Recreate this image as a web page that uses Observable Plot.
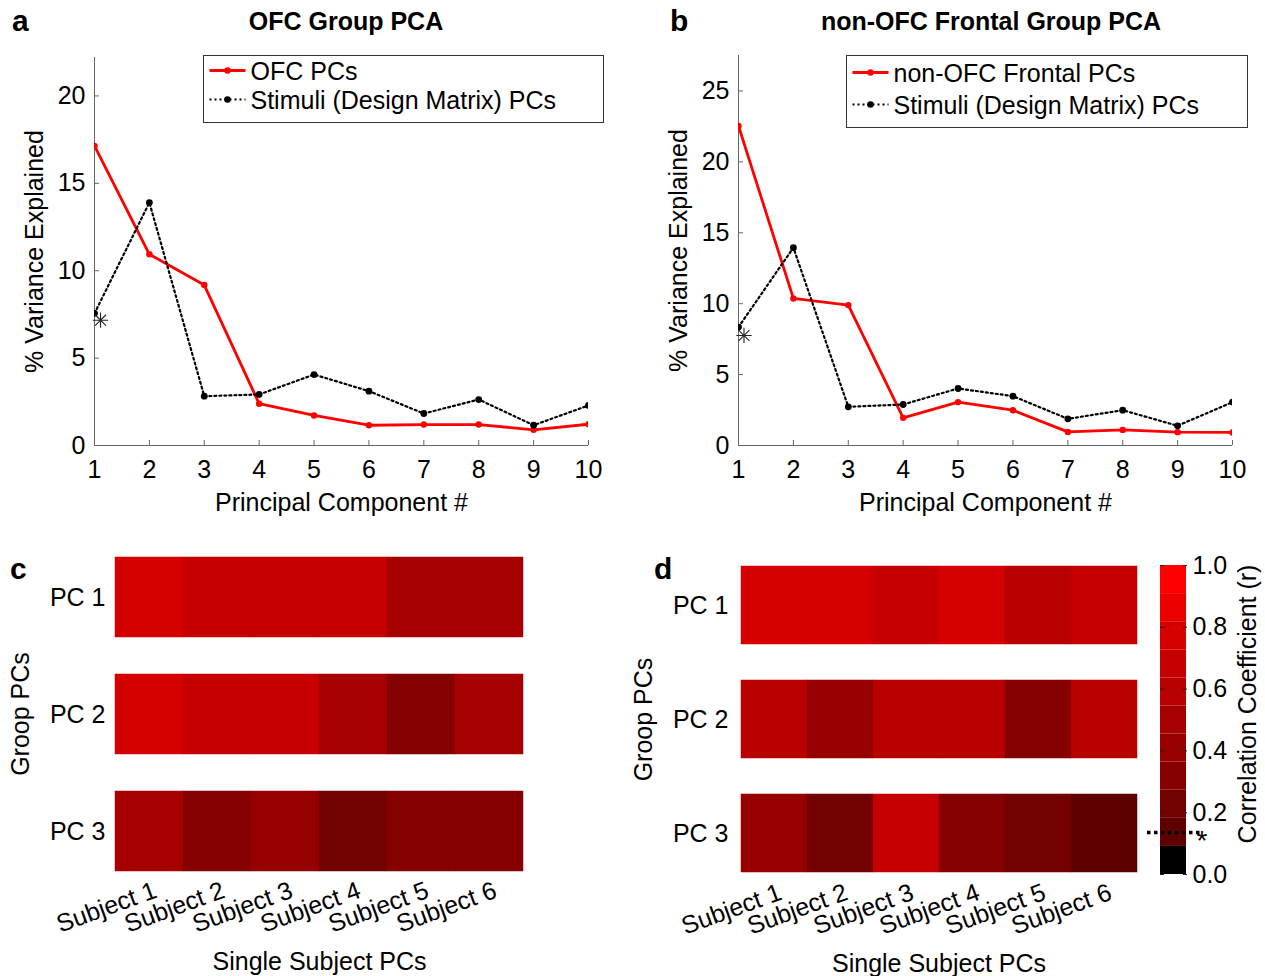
<!DOCTYPE html>
<html>
<head>
<meta charset="utf-8">
<script src="https://cdn.jsdelivr.net/npm/d3@7"></script>
<script src="https://cdn.jsdelivr.net/npm/@observablehq/plot@0.6"></script>
<style>
  body { margin: 0; background: #fff; }
  #fig { position: relative; width: 1265px; height: 976px; overflow: hidden; background: #fff;
         font-family: "Liberation Sans", Arial, sans-serif; }
  #fig > svg, #fig > figure { position: absolute; margin: 0; }
</style>
</head>
<body>
<div id="fig"></div>
<script>
// ---------------- data ----------------
const components = [1, 2, 3, 4, 5, 6, 7, 8, 9, 10];
const ofcVariance        = [17.14, 10.94, 9.18, 2.39, 1.72, 1.16, 1.20, 1.20, 0.90, 1.22];
const ofcStimVariance    = [7.56, 13.90, 2.82, 2.92, 4.06, 3.11, 1.83, 2.63, 1.16, 2.29];
const nonOfcVariance     = [22.53, 10.37, 9.90, 1.95, 3.06, 2.49, 0.96, 1.10, 0.94, 0.92];
const nonOfcStimVariance = [8.35, 13.95, 2.73, 2.89, 4.02, 3.48, 1.88, 2.49, 1.39, 3.06];
const ofcStar    = [{pc: 1.11, v: 7.17}];
const nonOfcStar = [{pc: 1.10, v: 7.76}];
const yTicksA = [0, 5, 10, 15, 20];
const yTicksB = [0, 5, 10, 15, 20, 25];

const subjects = ["Subject 1", "Subject 2", "Subject 3", "Subject 4", "Subject 5", "Subject 6"];
const groupPCs = ["PC 1", "PC 2", "PC 3"];
const ofcCorr = [
  [0.77, 0.68, 0.68, 0.68, 0.50, 0.50],
  [0.77, 0.68, 0.68, 0.50, 0.32, 0.50],
  [0.50, 0.32, 0.41, 0.23, 0.32, 0.32]
];
const nonOfcCorr = [
  [0.77, 0.77, 0.68, 0.77, 0.59, 0.68],
  [0.59, 0.41, 0.59, 0.59, 0.32, 0.59],
  [0.41, 0.23, 0.68, 0.32, 0.23, 0.14]
];
const corrThresholds = [0.0909, 0.1818, 0.2727, 0.3636, 0.4545, 0.5455, 0.6364, 0.7273, 0.8182, 0.9091];
const binColors = ["#000000", "#5e0000", "#720000", "#850000", "#960000", "#a70000",
                   "#b90000", "#c60000", "#d70000", "#eb0000", "#ff0000"];
const colorbarTicks = [0, 0.2, 0.4, 0.6, 0.8, 1.0];
const sigThreshold = [0.136];
const colorbarLabel = ["Correlation Coefficient (r)"];

// ---------------- helpers ----------------
const fig = document.getElementById("fig");
const FONT = "Liberation Sans, Arial, sans-serif";
const DOTS = "2,3";
function place(el, left, top) {
  el.style.left = left + "px";
  el.style.top = top + "px";
  fig.appendChild(el);
}
const baseStyle = {fontFamily: FONT, fontSize: "25px", color: "#000", background: "none", overflow: "visible"};
const series = (ys) => components.map((pc, i) => ({pc, v: ys[i]}));

function linePlot({red, stim, star, yMax, yTicks, width, ml, mr, mt}) {
  const height = 530;
  const redData = series(red), stimData = series(stim);
  return Plot.plot({
    width, height, marginLeft: ml, marginRight: mr, marginTop: mt, marginBottom: 85,
    style: baseStyle,
    x: {domain: [1, 10]},
    y: {domain: [0, yMax]},
    marks: [
      Plot.ruleX([1], {stroke: "#666"}),
      Plot.ruleY([0], {stroke: "#666"}),
      Plot.axisX({ticks: components, tickFormat: d => d, tickSize: -5, tickPadding: 20, stroke: "#666",
                  label: "Principal Component #", labelAnchor: "center", labelArrow: "none", labelOffset: 65}),
      Plot.axisY({ticks: yTicks, tickFormat: d => d, tickSize: -5, tickPadding: 14, stroke: "#666",
                  label: "% Variance Explained", labelAnchor: "center", labelArrow: "none", labelOffset: 69}),
      Plot.line(redData, {x: "pc", y: "v", stroke: "#ff0000", strokeWidth: 2.8, clip: "frame"}),
      Plot.dot(redData, {x: "pc", y: "v", r: 3.2, fill: "#ff0000", clip: "frame"}),
      Plot.line(stimData, {x: "pc", y: "v", stroke: "#000", strokeWidth: 2.2, strokeDasharray: DOTS, clip: "frame"}),
      Plot.dot(stimData, {x: "pc", y: "v", r: 3.4, fill: "#000", clip: "frame"}),
      Plot.dot(star, {x: "pc", y: "v", symbol: "plus", r: 5, stroke: "#222", strokeWidth: 1.1}),
      Plot.dot(star, {x: "pc", y: "v", symbol: "times", r: 5, stroke: "#222", strokeWidth: 1.1})
    ]
  });
}

const colorScale = {type: "threshold", domain: corrThresholds, range: binColors};

function heatPlot({corr, width, ml, mr, mt, mb}) {
  const cells = groupPCs.flatMap((pc, i) => subjects.map((s, j) => ({pc, subject: s, r: corr[i][j]})));
  return Plot.plot({
    width, height: 446, marginLeft: ml, marginRight: mr, marginTop: mt, marginBottom: mb,
    style: baseStyle,
    x: {domain: subjects, padding: 0},
    y: {domain: groupPCs, paddingInner: 0.32, paddingOuter: 0},
    color: colorScale,
    marks: [
      Plot.cell(cells, {x: "subject", y: "pc", fill: "r", stroke: "r", strokeWidth: 0.5, inset: 0}),
      Plot.axisX({tickSize: 0, tickPadding: 18, tickRotate: -20, dx: 6,
                  label: "Single Subject PCs", labelAnchor: "center", labelArrow: "none", labelOffset: 98}),
      Plot.axisY({tickSize: 0, tickPadding: 10,
                  label: "Groop PCs", labelAnchor: "center", labelArrow: "none", labelOffset: 104})
    ]
  });
}

function colorbarPlot() {
  const edges = [0, ...corrThresholds, 1];
  const bins = binColors.map((c, i) => ({lo: edges[i], hi: edges[i + 1], mid: (edges[i] + edges[i + 1]) / 2}));
  return Plot.plot({
    width: 125, height: 446, marginLeft: 20, marginRight: 79, marginTop: 35, marginBottom: 102,
    style: baseStyle,
    y: {domain: [0, 1]},
    color: colorScale,
    marks: [
      Plot.rect(bins, {y1: "lo", y2: "hi", fill: "mid"}),
      Plot.axisY({anchor: "left", ticks: colorbarTicks, tickSize: -4, tickFormat: () => "", stroke: "#222", label: null}),
      Plot.axisY({anchor: "right", ticks: colorbarTicks, tickSize: -4, tickPadding: 10, tickFormat: ".1f", stroke: "#222", label: null}),
      Plot.text(colorbarLabel, {frameAnchor: "right", rotate: -90, textAnchor: "middle", lineAnchor: "middle",
                                dx: 61, dy: -16, text: d => d, fontSize: 25}),
      Plot.ruleY(sigThreshold, {stroke: "#000", strokeWidth: 3.5, strokeDasharray: "3.5,3.5", insetLeft: -13, insetRight: -14}),
      Plot.text(sigThreshold, {y: d => d, frameAnchor: "right", dx: 21, dy: 9, text: () => "*", fontSize: 28})
    ]
  });
}

// ---------------- render ----------------
place(linePlot({red: ofcVariance, stim: ofcStimVariance, star: ofcStar, yMax: 22.2, yTicks: yTicksA,
                width: 640, ml: 94, mr: 52, mt: 57}), 0, 0);
place(linePlot({red: nonOfcVariance, stim: nonOfcStimVariance, star: nonOfcStar, yMax: 27.5, yTicks: yTicksB,
                width: 625, ml: 98, mr: 33, mt: 55}), 640, 0);
place(heatPlot({corr: ofcCorr, width: 640, ml: 115, mr: 117, mt: 26, mb: 105}), 0, 530);
place(heatPlot({corr: nonOfcCorr, width: 500, ml: 98, mr: 1, mt: 35, mb: 103}), 640, 530);
place(colorbarPlot(), 1140, 530);

// ---------------- overlay: titles, panel letters, legends ----------------
const titles = [
  {text: "OFC Group PCA", x: 346, y: 30},
  {text: "non-OFC Frontal Group PCA", x: 991, y: 30}
];
const letters = [
  {text: "a", x: 12, y: 31}, {text: "b", x: 670, y: 31},
  {text: "c", x: 10, y: 579}, {text: "d", x: 654, y: 579}
];
const legends = [
  {x: 203.5, y: 55.5, w: 400, h: 67, entries: [
    {label: "OFC PCs", color: "#ff0000", dash: null, width: 2.8, cy: 15},
    {label: "Stimuli (Design Matrix) PCs", color: "#000", dash: DOTS, width: 2.2, cy: 44}]},
  {x: 846.5, y: 55.5, w: 401, h: 72, entries: [
    {label: "non-OFC Frontal PCs", color: "#ff0000", dash: null, width: 2.8, cy: 17},
    {label: "Stimuli (Design Matrix) PCs", color: "#000", dash: DOTS, width: 2.2, cy: 49}]}
];

const ov = d3.select(fig).append("svg")
  .attr("width", 1265).attr("height", 976)
  .style("left", "0px").style("top", "0px")
  .style("pointer-events", "none")
  .style("font-family", FONT);

ov.selectAll("text.title").data(titles).join("text")
  .attr("class", "title").attr("x", d => d.x).attr("y", d => d.y)
  .attr("text-anchor", "middle").attr("font-size", 25).attr("font-weight", "bold").text(d => d.text);

ov.selectAll("text.letter").data(letters).join("text")
  .attr("class", "letter").attr("x", d => d.x).attr("y", d => d.y)
  .attr("font-size", 30).attr("font-weight", "bold").text(d => d.text);

const lg = ov.selectAll("g.legend").data(legends).join("g")
  .attr("class", "legend").attr("transform", d => `translate(${d.x},${d.y})`);
lg.append("rect").attr("width", d => d.w).attr("height", d => d.h)
  .attr("fill", "#fff").attr("stroke", "#333").attr("stroke-width", 1);
const entry = lg.selectAll("g.entry").data(d => d.entries).join("g")
  .attr("class", "entry").attr("transform", d => `translate(0,${d.cy})`);
entry.append("line").attr("x1", 6).attr("x2", 42).attr("y1", 0).attr("y2", 0)
  .attr("stroke", d => d.color).attr("stroke-width", d => d.width)
  .attr("stroke-dasharray", d => d.dash);
entry.append("circle").attr("cx", 24).attr("cy", 0).attr("r", 3.3).attr("fill", d => d.color);
entry.append("text").attr("x", 47).attr("y", 9).attr("font-size", 25).text(d => d.label);
</script>
</body>
</html>
